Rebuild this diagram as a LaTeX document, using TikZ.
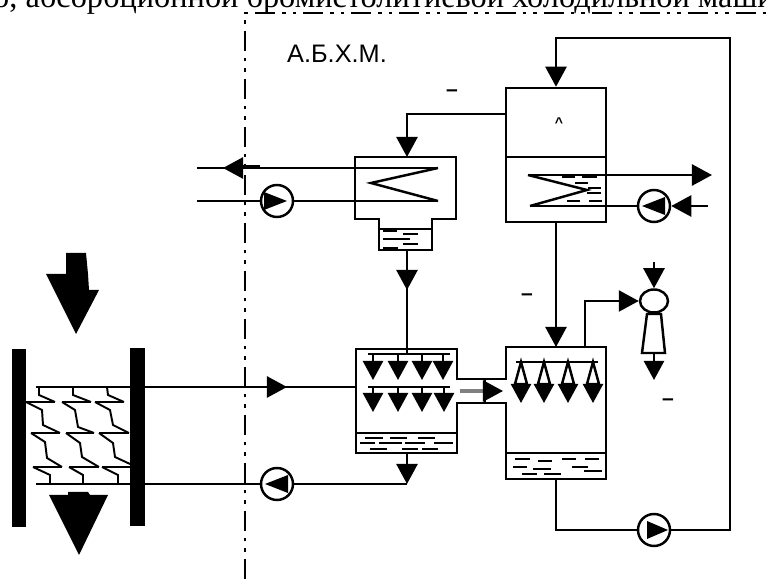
\documentclass[tikz,border=0pt]{standalone}
\usepackage{fontspec}
\setmainfont{Liberation Serif}
\setsansfont{Liberation Sans}
\usetikzlibrary{arrows.meta,shapes.geometric}

\begin{document}
\begin{tikzpicture}[x=0.01cm, y=-0.01cm, line width=0.7pt, >={Triangle[length=0.2cm,width=0.21cm]},
    vessel/.style={draw, minimum width=1cm, minimum height=1.34cm, inner sep=0pt},
    pump/.style={draw, circle, minimum size=0.32cm, inner sep=0pt},
    plate/.style={fill=black, minimum width=0.145cm, minimum height=1.78cm, inner sep=0pt},
    drop/.style={-{Triangle[length=0.19cm,width=0.2cm]}},
    fin/.style={line width=0.55pt},
    level/.style={line width=0.6pt},
    border/.style={line width=0.6pt, dash pattern=on 0.2cm off 0.07cm on 0.035cm off 0.07cm on 0.035cm off 0.07cm},
    tick/.style={font=\sffamily\bfseries\fontsize{6pt}{7pt}\selectfont, inner sep=0pt}]
  % Page area
  \useasboundingbox (0,0) rectangle (766,579);
  \clip (0,0) rectangle (766,579);

  % Caption cut by the top edge
  \node[anchor=base west, inner sep=0pt, font=\fontsize{9.2pt}{11pt}\selectfont] (caption) at (-8,8) {о, абсорбционной бромистолитиевой холодильной маши};

  % Machine boundary
  \coordinate (bndS) at (245,579);
  \coordinate (bndC) at (245,13);
  \coordinate (bndE) at (766,13);
  \draw[border] (bndS) -- (bndC) -- (bndE);
  \node[font=\sffamily\fontsize{7.2pt}{8pt}\selectfont, inner sep=0pt] (title) at (337,54) {А.Б.Х.М.};

  % Small marks
  \node[tick] (m1) at (452,93) {--};
  \node[tick] (m2) at (527,297) {--};
  \node[tick] (m3) at (668,402) {--};
  \node[tick, font=\sffamily\bfseries\fontsize{4pt}{5pt}\selectfont] (m4) at (559,123) {\textasciicircum};

  % Generator
  \node[vessel] (gen) at (556,155) {};
  \draw (506,157) -- (606,157);
  \draw (528,175) -- (587,190) -- (530,206);
  \draw[level] (562,177) -- (575,177) (582,177) -- (597,177) (575,183) -- (588,183);
  \draw[level] (588,188) -- (601,188) (587,193) -- (601,193);
  \draw[level] (567,201) -- (580,201) (589,201) -- (602,201);

  % Condenser
  \draw (355,157) -| (456,219) -- (432,219) |- (379,250) -- (379,219) -- (355,219) -- cycle;
  \draw (379,229) -- (432,229);
  \draw (438,168) -- (371,183) -- (438,201);
  \draw[level] (383,231) -- (397,231) (403,234) -- (418,234) (383,239) -- (410,239);
  \draw[level] (403,244) -- (418,244) (383,248) -- (398,248);

  % Evaporator and absorber shell
  \draw (457,379) |- (356,349) |- (457,453) -- (457,403) -- (506,403) |- (606,479) |- (506,347) -- (506,379) -- cycle;
  \draw (356,433) -- (457,433);
  \draw (506,453) -- (606,453);

  % Vapour passage
  \draw[gray, line width=1pt] (460,391) -- (485,391);
  \draw (485,379) -- (485,403);
  \draw[->] (485,391) -- (503,391);

  % Evaporator sprays
  \draw (368,354) -- (450,354);
  \draw (368,387) -- (450,387);
  \draw[drop] (373,354) -- (373,380);
  \draw[drop] (398,354) -- (398,380);
  \draw[drop] (422,354) -- (422,380);
  \draw[drop] (443,354) -- (443,380);
  \draw[drop] (373,387) -- (373,412);
  \draw[drop] (398,387) -- (398,412);
  \draw[drop] (422,387) -- (422,412);
  \draw[drop] (444,387) -- (444,412);

  % Absorber sprays
  \draw (516,362) -- (598,362);
  \draw (521,362) -- (515,384) -- (527,384) -- cycle;
  \draw (544,362) -- (538,384) -- (550,384) -- cycle;
  \draw (568,362) -- (562,384) -- (574,384) -- cycle;
  \draw (593,362) -- (587,384) -- (599,384) -- cycle;
  \draw[drop] (521,384) -- (521,403);
  \draw[drop] (544,384) -- (544,403);
  \draw[drop] (568,384) -- (568,403);
  \draw[drop] (593,384) -- (593,403);

  % Liquid levels
  \draw[level] (365,438) -- (383,438) (390,438) -- (407,438) (418,438) -- (435,438);
  \draw[level] (360,443) -- (375,443) (379,443) -- (402,443) (405,443) -- (425,443) (434,443) -- (453,443);
  \draw[level] (370,449) -- (387,449) (402,449) -- (418,449) (422,449) -- (438,449);
  \draw[level] (515,459) -- (530,459) (562,459) -- (576,459) (585,459) -- (599,459) (538,461) -- (552,461);
  \draw[level] (513,467) -- (527,467) (572,467) -- (588,467) (533,469) -- (551,469) (584,471) -- (602,471);
  \draw[level] (522,474) -- (537,474) (544,474) -- (561,474);

  % Pumps
  \node[pump] (p1) at (277,201) {};
  \fill (264,192) -- (287,201) -- (264,210) -- cycle;
  \node[pump] (p2) at (654,206) {};
  \fill (665,197) -- (642,206) -- (665,215) -- cycle;
  \node[pump] (p3) at (277,484) {};
  \fill (288,475) -- (265,484) -- (288,493) -- cycle;
  \node[pump] (p4) at (654,530) {};
  \fill (647,521) -- (668,530) -- (647,539) -- cycle;

  % Ejector
  \node[draw, ellipse, minimum width=0.28cm, minimum height=0.23cm, inner sep=0pt] (jet) at (654,301) {};
  \draw (647,314) -- (661,314) -- (665,353) -- (642,353) -- cycle;
  \coordinate (jetin) at (654,262);
  \coordinate (jetout) at (654,353);
  \coordinate (jetend) at (654,380);
  \draw[->] (jetin) -- (jet.north);
  \draw[drop] (jetout) -- (jetend);

  % Ports
  \coordinate (genout) at (506,114);
  \coordinate (condin) at (407,157);
  \coordinate (condout) at (407,250);
  \coordinate (condmid) at (407,290);
  \coordinate (evapbar) at (407,354);
  \coordinate (evapout) at (407,453);
  \coordinate (evapturn) at (407,484);
  \coordinate (absin) at (556,347);
  \coordinate (absgas) at (585,347);
  \coordinate (absout) at (556,479);
  \coordinate (loopNE) at (730,38);
  \coordinate (evapW) at (356,387);
  \coordinate (coilU) at (36,387);
  \coordinate (coilUtip) at (287,387);
  \coordinate (coilL) at (36,484);
  \coordinate (cwout) at (197,168);
  \coordinate (cwtip) at (223,168);
  \coordinate (cwin) at (197,201);
  \coordinate (condU) at (438,168);
  \coordinate (condL) at (438,201);
  \coordinate (genU) at (528,175);
  \coordinate (genUend) at (712,175);
  \coordinate (genL) at (530,206);
  \coordinate (genLin) at (708,206);

  % Connections
  \draw[->] (p4) -| (loopNE) -| (gen.north);
  \draw (absout) |- (p4);
  \draw[->] (genout) -| (condin);
  \draw (condout) -- (evapbar);
  \draw[->] (condout) -- (condmid);
  \draw[->] (gen.south) -- (absin);
  \draw[->] (absgas) |- (jet.west);
  \draw[->] (evapout) -- (evapturn);
  \draw (evapturn) -- (p3);
  \draw (p3) -- (coilL);
  \draw (coilU) -- (evapW);
  \draw[->] (coilU) -- (coilUtip);
  \draw (condU) -- (cwout);
  \draw[->] (condU) -- (cwtip);
  \draw (243,166) -- (260,166);
  \draw (cwin) -- (p1);
  \draw (p1) -- (condL);
  \draw[->] (genU) -- (genUend);
  \draw (genL) -- (p2);
  \draw[->] (genLin) -- (p2);

  % Air cooler fins
  \draw[fin] (26,402) -- (55,402) (62,402) -- (91,402) (95,402) -- (124,402);
  \draw[fin] (31,433) -- (60,433) (66,433) -- (94,433) (99,433) -- (129,433);
  \draw[fin] (33,467) -- (62,467) (69,467) -- (99,467) (102,467) -- (130,467);
  \draw[fin] (39,387) -- (39,395) -- (55,402);
  \draw[fin] (73,387) -- (73,395) -- (91,402);
  \draw[fin] (107,387) -- (108,395) -- (124,402);
  \draw[fin] (26,402) -- (42,410) -- (43,425) -- (60,433);
  \draw[fin] (62,402) -- (75,410) -- (78,427) -- (94,433);
  \draw[fin] (95,402) -- (110,410) -- (113,425) -- (129,433);
  \draw[fin] (31,433) -- (45,442) -- (47,458) -- (62,467);
  \draw[fin] (66,433) -- (80,443) -- (82,457) -- (99,467);
  \draw[fin] (99,433) -- (113,443) -- (115,457) -- (130,464);
  \draw[fin] (33,467) -- (50,475) -- (50,484);
  \draw[fin] (69,467) -- (83,475) -- (83,484);
  \draw[fin] (102,467) -- (118,475) -- (118,484);

  % Air cooler plates
  \node[plate] (plateL) at (19,438) {};
  \node[plate] (plateR) at (137.5,437) {};

  % Air flow
  \fill (66,253) -- (86,253) -- (88,274) -- (89,290) -- (99,290) -- (76,334) -- (46,274) -- (66,274) -- cycle;
  \fill (68,492) -- (88,492) -- (90,495) -- (108,495) -- (79,555) -- (49,495) -- (68,495) -- cycle;
\end{tikzpicture}
\end{document}
